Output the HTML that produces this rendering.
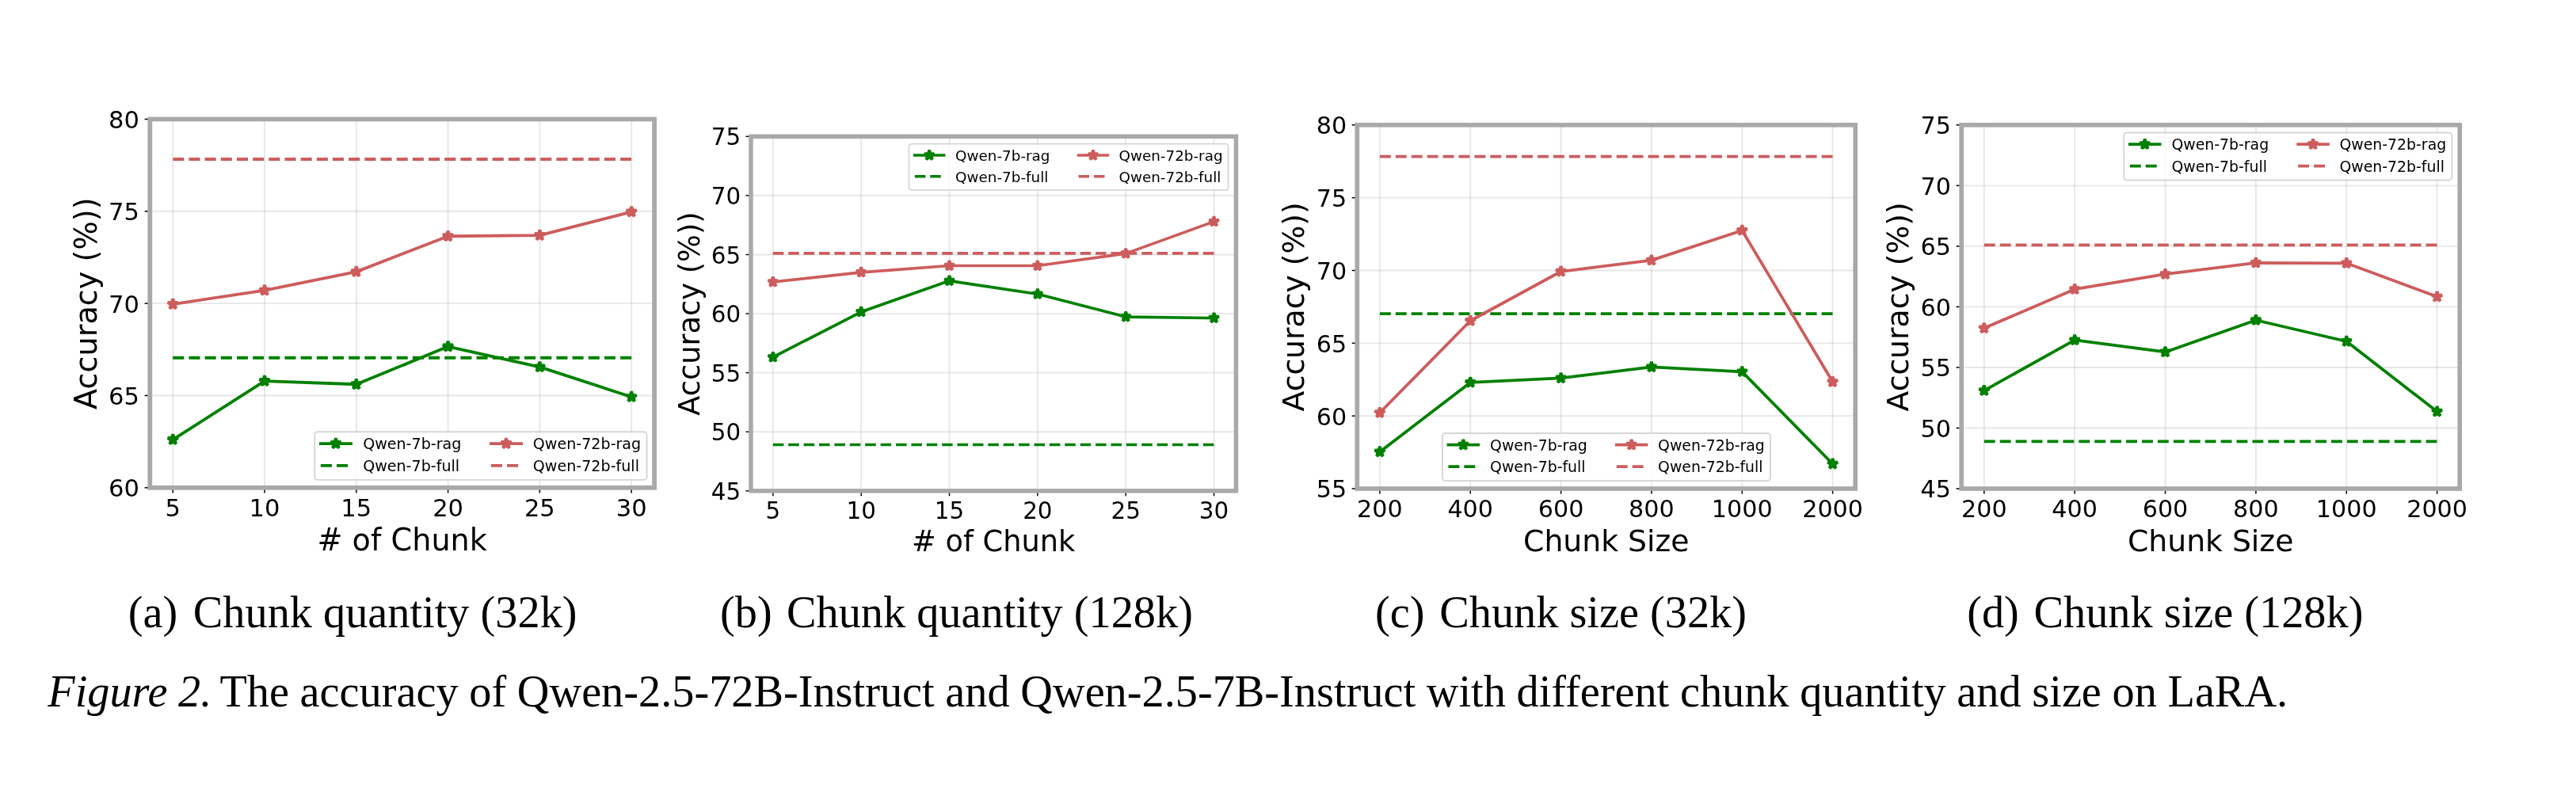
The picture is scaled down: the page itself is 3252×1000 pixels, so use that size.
<!DOCTYPE html>
    <html><head><meta charset="utf-8"><title>Figure 2</title>
    <style>
    html,body{margin:0;padding:0;background:#fff;}
    body{width:3252px;height:1000px;overflow:hidden;}
    svg{display:block;will-change:transform;}
    svg text{font-family:"DejaVu Sans","Liberation Sans",sans-serif;fill:#000;}
    svg text.cap{font-family:"Liberation Serif","Times New Roman",serif;}
    </style></head>
    <body>
    <svg width="3252" height="1000" viewBox="0 0 3252 1000">
    <rect width="3252" height="1000" fill="#fff"/>
    <line x1="189.30" y1="615.80" x2="826.10" y2="615.80" stroke="#b0b0b0" stroke-opacity="0.3" stroke-width="1.91"/>
<line x1="189.30" y1="499.47" x2="826.10" y2="499.47" stroke="#b0b0b0" stroke-opacity="0.3" stroke-width="1.91"/>
<line x1="189.30" y1="383.15" x2="826.10" y2="383.15" stroke="#b0b0b0" stroke-opacity="0.3" stroke-width="1.91"/>
<line x1="189.30" y1="266.82" x2="826.10" y2="266.82" stroke="#b0b0b0" stroke-opacity="0.3" stroke-width="1.91"/>
<line x1="189.30" y1="150.50" x2="826.10" y2="150.50" stroke="#b0b0b0" stroke-opacity="0.3" stroke-width="1.91"/>
<line x1="218.25" y1="150.50" x2="218.25" y2="615.80" stroke="#b0b0b0" stroke-opacity="0.3" stroke-width="1.91"/>
<line x1="334.03" y1="150.50" x2="334.03" y2="615.80" stroke="#b0b0b0" stroke-opacity="0.3" stroke-width="1.91"/>
<line x1="449.81" y1="150.50" x2="449.81" y2="615.80" stroke="#b0b0b0" stroke-opacity="0.3" stroke-width="1.91"/>
<line x1="565.59" y1="150.50" x2="565.59" y2="615.80" stroke="#b0b0b0" stroke-opacity="0.3" stroke-width="1.91"/>
<line x1="681.37" y1="150.50" x2="681.37" y2="615.80" stroke="#b0b0b0" stroke-opacity="0.3" stroke-width="1.91"/>
<line x1="797.15" y1="150.50" x2="797.15" y2="615.80" stroke="#b0b0b0" stroke-opacity="0.3" stroke-width="1.91"/>
<line x1="218.25" y1="451.78" x2="797.15" y2="451.78" stroke="#008000" stroke-width="3.82" stroke-dasharray="14.083,6.090"/>
<line x1="218.25" y1="200.99" x2="797.15" y2="200.99" stroke="#cd5c5c" stroke-width="3.82" stroke-dasharray="14.083,6.090"/>
<polyline points="218.25,555.08 334.03,481.10 449.81,485.28 565.59,437.59 681.37,463.41 797.15,501.10" fill="none" stroke="#008000" stroke-width="3.82" stroke-linejoin="round" stroke-linecap="square"/>
<path d="M218.25,548.39 L216.74,553.01 L211.89,553.01 L215.82,555.87 L214.32,560.49 L218.25,557.63 L222.17,560.49 L220.67,555.87 L224.60,553.01 L219.75,553.01 Z" fill="#008000" stroke="#008000" stroke-width="3.82" stroke-linejoin="bevel"/>
<path d="M334.03,474.41 L332.53,479.03 L327.67,479.03 L331.60,481.88 L330.10,486.50 L334.03,483.65 L337.96,486.50 L336.46,481.88 L340.39,479.03 L335.53,479.03 Z" fill="#008000" stroke="#008000" stroke-width="3.82" stroke-linejoin="bevel"/>
<path d="M449.81,478.60 L448.31,483.22 L443.45,483.22 L447.38,486.07 L445.88,490.69 L449.81,487.84 L453.74,490.69 L452.24,486.07 L456.17,483.22 L451.31,483.22 Z" fill="#008000" stroke="#008000" stroke-width="3.82" stroke-linejoin="bevel"/>
<path d="M565.59,430.91 L564.09,435.52 L559.23,435.52 L563.16,438.38 L561.66,443.00 L565.59,440.14 L569.52,443.00 L568.02,438.38 L571.95,435.52 L567.09,435.52 Z" fill="#008000" stroke="#008000" stroke-width="3.82" stroke-linejoin="bevel"/>
<path d="M681.37,456.73 L679.87,461.35 L675.01,461.35 L678.94,464.20 L677.44,468.82 L681.37,465.97 L685.30,468.82 L683.80,464.20 L687.73,461.35 L682.87,461.35 Z" fill="#008000" stroke="#008000" stroke-width="3.82" stroke-linejoin="bevel"/>
<path d="M797.15,494.42 L795.65,499.04 L790.80,499.04 L794.73,501.89 L793.23,506.51 L797.15,503.66 L801.08,506.51 L799.58,501.89 L803.51,499.04 L798.66,499.04 Z" fill="#008000" stroke="#008000" stroke-width="3.82" stroke-linejoin="bevel"/>
<polyline points="218.25,384.08 334.03,366.63 449.81,343.13 565.59,298.23 681.37,297.07 797.15,267.52" fill="none" stroke="#cd5c5c" stroke-width="3.82" stroke-linejoin="round" stroke-linecap="square"/>
<path d="M218.25,377.40 L216.74,382.01 L211.89,382.01 L215.82,384.87 L214.32,389.49 L218.25,386.63 L222.17,389.49 L220.67,384.87 L224.60,382.01 L219.75,382.01 Z" fill="#cd5c5c" stroke="#cd5c5c" stroke-width="3.82" stroke-linejoin="bevel"/>
<path d="M334.03,359.95 L332.53,364.57 L327.67,364.57 L331.60,367.42 L330.10,372.04 L334.03,369.19 L337.96,372.04 L336.46,367.42 L340.39,364.57 L335.53,364.57 Z" fill="#cd5c5c" stroke="#cd5c5c" stroke-width="3.82" stroke-linejoin="bevel"/>
<path d="M449.81,336.45 L448.31,341.07 L443.45,341.07 L447.38,343.92 L445.88,348.54 L449.81,345.69 L453.74,348.54 L452.24,343.92 L456.17,341.07 L451.31,341.07 Z" fill="#cd5c5c" stroke="#cd5c5c" stroke-width="3.82" stroke-linejoin="bevel"/>
<path d="M565.59,291.55 L564.09,296.17 L559.23,296.17 L563.16,299.02 L561.66,303.64 L565.59,300.79 L569.52,303.64 L568.02,299.02 L571.95,296.17 L567.09,296.17 Z" fill="#cd5c5c" stroke="#cd5c5c" stroke-width="3.82" stroke-linejoin="bevel"/>
<path d="M681.37,290.38 L679.87,295.00 L675.01,295.00 L678.94,297.86 L677.44,302.48 L681.37,299.62 L685.30,302.48 L683.80,297.86 L687.73,295.00 L682.87,295.00 Z" fill="#cd5c5c" stroke="#cd5c5c" stroke-width="3.82" stroke-linejoin="bevel"/>
<path d="M797.15,260.84 L795.65,265.46 L790.80,265.46 L794.73,268.31 L793.23,272.93 L797.15,270.08 L801.08,272.93 L799.58,268.31 L803.51,265.46 L798.66,265.46 Z" fill="#cd5c5c" stroke="#cd5c5c" stroke-width="3.82" stroke-linejoin="bevel"/>
<rect x="397.20" y="545.20" width="419.30" height="60.70" rx="3.82" fill="#ffffff" fill-opacity="0.8" stroke="#cccccc" stroke-opacity="0.8" stroke-width="1.91"/>
<line x1="404.84" y1="560.10" x2="443.04" y2="560.10" stroke="#008000" stroke-width="3.82" stroke-linecap="square"/>
<path d="M423.94,553.42 L422.44,558.03 L417.58,558.03 L421.51,560.89 L420.01,565.51 L423.94,562.65 L427.87,565.51 L426.37,560.89 L430.30,558.03 L425.44,558.03 Z" fill="#008000" stroke="#008000" stroke-width="3.82" stroke-linejoin="bevel"/>
<line x1="404.84" y1="587.90" x2="443.04" y2="587.90" stroke="#008000" stroke-width="3.82" stroke-dasharray="14.083,6.090"/>
<text x="458.13" y="567.36" font-size="19.10">Qwen-7b-rag</text>
<text x="458.13" y="595.26" font-size="19.10">Qwen-7b-full</text>
<line x1="619.90" y1="560.10" x2="658.10" y2="560.10" stroke="#cd5c5c" stroke-width="3.82" stroke-linecap="square"/>
<path d="M639.00,553.42 L637.50,558.03 L632.64,558.03 L636.57,560.89 L635.07,565.51 L639.00,562.65 L642.93,565.51 L641.43,560.89 L645.36,558.03 L640.50,558.03 Z" fill="#cd5c5c" stroke="#cd5c5c" stroke-width="3.82" stroke-linejoin="bevel"/>
<line x1="619.90" y1="587.90" x2="658.10" y2="587.90" stroke="#cd5c5c" stroke-width="3.82" stroke-dasharray="14.083,6.090"/>
<text x="672.83" y="567.36" font-size="19.10">Qwen-72b-rag</text>
<text x="672.83" y="595.26" font-size="19.10">Qwen-72b-full</text>
<line x1="182.62" y1="615.80" x2="189.30" y2="615.80" stroke="#000" stroke-width="1.53"/>
<text x="175.93" y="627.41" font-size="30.56" text-anchor="end">60</text>
<line x1="182.62" y1="499.47" x2="189.30" y2="499.47" stroke="#000" stroke-width="1.53"/>
<text x="175.93" y="511.09" font-size="30.56" text-anchor="end">65</text>
<line x1="182.62" y1="383.15" x2="189.30" y2="383.15" stroke="#000" stroke-width="1.53"/>
<text x="175.93" y="394.76" font-size="30.56" text-anchor="end">70</text>
<line x1="182.62" y1="266.82" x2="189.30" y2="266.82" stroke="#000" stroke-width="1.53"/>
<text x="175.93" y="278.44" font-size="30.56" text-anchor="end">75</text>
<line x1="182.62" y1="150.50" x2="189.30" y2="150.50" stroke="#000" stroke-width="1.53"/>
<text x="175.93" y="162.11" font-size="30.56" text-anchor="end">80</text>
<line x1="218.25" y1="615.80" x2="218.25" y2="622.48" stroke="#000" stroke-width="1.53"/>
<text x="218.25" y="652.40" font-size="30.56" text-anchor="middle">5</text>
<line x1="334.03" y1="615.80" x2="334.03" y2="622.48" stroke="#000" stroke-width="1.53"/>
<text x="334.03" y="652.40" font-size="30.56" text-anchor="middle">10</text>
<line x1="449.81" y1="615.80" x2="449.81" y2="622.48" stroke="#000" stroke-width="1.53"/>
<text x="449.81" y="652.40" font-size="30.56" text-anchor="middle">15</text>
<line x1="565.59" y1="615.80" x2="565.59" y2="622.48" stroke="#000" stroke-width="1.53"/>
<text x="565.59" y="652.40" font-size="30.56" text-anchor="middle">20</text>
<line x1="681.37" y1="615.80" x2="681.37" y2="622.48" stroke="#000" stroke-width="1.53"/>
<text x="681.37" y="652.40" font-size="30.56" text-anchor="middle">25</text>
<line x1="797.15" y1="615.80" x2="797.15" y2="622.48" stroke="#000" stroke-width="1.53"/>
<text x="797.15" y="652.40" font-size="30.56" text-anchor="middle">30</text>
<rect x="189.30" y="150.50" width="636.80" height="465.30" fill="none" stroke="#a9a9a9" stroke-width="5.73" stroke-linejoin="miter"/>
<text x="507.70" y="695.43" font-size="38.20" text-anchor="middle"># of Chunk</text>
<text transform="translate(121.50,383.15) rotate(-90)" x="0" y="0" font-size="38.20" text-anchor="middle">Accuracy (%))</text>
<text class="cap" x="161.67" y="791.7" font-size="56.3">(a)</text>
<text class="cap" x="243.81" y="791.7" font-size="56.3">Chunk quantity (32k)</text>
<line x1="948.00" y1="619.80" x2="1560.40" y2="619.80" stroke="#b0b0b0" stroke-opacity="0.3" stroke-width="1.84"/>
<line x1="948.00" y1="545.22" x2="1560.40" y2="545.22" stroke="#b0b0b0" stroke-opacity="0.3" stroke-width="1.84"/>
<line x1="948.00" y1="470.63" x2="1560.40" y2="470.63" stroke="#b0b0b0" stroke-opacity="0.3" stroke-width="1.84"/>
<line x1="948.00" y1="396.05" x2="1560.40" y2="396.05" stroke="#b0b0b0" stroke-opacity="0.3" stroke-width="1.84"/>
<line x1="948.00" y1="321.47" x2="1560.40" y2="321.47" stroke="#b0b0b0" stroke-opacity="0.3" stroke-width="1.84"/>
<line x1="948.00" y1="246.88" x2="1560.40" y2="246.88" stroke="#b0b0b0" stroke-opacity="0.3" stroke-width="1.84"/>
<line x1="948.00" y1="172.30" x2="1560.40" y2="172.30" stroke="#b0b0b0" stroke-opacity="0.3" stroke-width="1.84"/>
<line x1="975.84" y1="172.30" x2="975.84" y2="619.80" stroke="#b0b0b0" stroke-opacity="0.3" stroke-width="1.84"/>
<line x1="1087.18" y1="172.30" x2="1087.18" y2="619.80" stroke="#b0b0b0" stroke-opacity="0.3" stroke-width="1.84"/>
<line x1="1198.53" y1="172.30" x2="1198.53" y2="619.80" stroke="#b0b0b0" stroke-opacity="0.3" stroke-width="1.84"/>
<line x1="1309.87" y1="172.30" x2="1309.87" y2="619.80" stroke="#b0b0b0" stroke-opacity="0.3" stroke-width="1.84"/>
<line x1="1421.22" y1="172.30" x2="1421.22" y2="619.80" stroke="#b0b0b0" stroke-opacity="0.3" stroke-width="1.84"/>
<line x1="1532.56" y1="172.30" x2="1532.56" y2="619.80" stroke="#b0b0b0" stroke-opacity="0.3" stroke-width="1.84"/>
<line x1="975.84" y1="561.48" x2="1532.56" y2="561.48" stroke="#008000" stroke-width="3.67" stroke-dasharray="13.537,5.854"/>
<line x1="975.84" y1="319.83" x2="1532.56" y2="319.83" stroke="#cd5c5c" stroke-width="3.67" stroke-dasharray="13.537,5.854"/>
<polyline points="975.84,450.94 1087.18,393.81 1198.53,354.58 1309.87,371.29 1421.22,400.08 1532.56,401.57" fill="none" stroke="#008000" stroke-width="3.67" stroke-linejoin="round" stroke-linecap="square"/>
<path d="M975.84,444.52 L974.39,448.96 L969.72,448.96 L973.50,451.70 L972.06,456.14 L975.84,453.40 L979.61,456.14 L978.17,451.70 L981.95,448.96 L977.28,448.96 Z" fill="#008000" stroke="#008000" stroke-width="3.67" stroke-linejoin="bevel"/>
<path d="M1087.18,387.39 L1085.74,391.83 L1081.07,391.83 L1084.85,394.57 L1083.40,399.01 L1087.18,396.27 L1090.96,399.01 L1089.52,394.57 L1093.29,391.83 L1088.62,391.83 Z" fill="#008000" stroke="#008000" stroke-width="3.67" stroke-linejoin="bevel"/>
<path d="M1198.53,348.16 L1197.08,352.60 L1192.42,352.60 L1196.19,355.34 L1194.75,359.78 L1198.53,357.04 L1202.30,359.78 L1200.86,355.34 L1204.64,352.60 L1199.97,352.60 Z" fill="#008000" stroke="#008000" stroke-width="3.67" stroke-linejoin="bevel"/>
<path d="M1309.87,364.86 L1308.43,369.30 L1303.76,369.30 L1307.54,372.05 L1306.10,376.49 L1309.87,373.74 L1313.65,376.49 L1312.21,372.05 L1315.98,369.30 L1311.32,369.30 Z" fill="#008000" stroke="#008000" stroke-width="3.67" stroke-linejoin="bevel"/>
<path d="M1421.22,393.65 L1419.78,398.09 L1415.11,398.09 L1418.88,400.84 L1417.44,405.28 L1421.22,402.53 L1425.00,405.28 L1423.55,400.84 L1427.33,398.09 L1422.66,398.09 Z" fill="#008000" stroke="#008000" stroke-width="3.67" stroke-linejoin="bevel"/>
<path d="M1532.56,395.14 L1531.12,399.58 L1526.45,399.58 L1530.23,402.33 L1528.79,406.77 L1532.56,404.02 L1536.34,406.77 L1534.90,402.33 L1538.68,399.58 L1534.01,399.58 Z" fill="#008000" stroke="#008000" stroke-width="3.67" stroke-linejoin="bevel"/>
<polyline points="975.84,356.07 1087.18,343.84 1198.53,335.49 1309.87,335.49 1421.22,320.12 1532.56,279.70" fill="none" stroke="#cd5c5c" stroke-width="3.67" stroke-linejoin="round" stroke-linecap="square"/>
<path d="M975.84,349.65 L974.39,354.09 L969.72,354.09 L973.50,356.83 L972.06,361.27 L975.84,358.53 L979.61,361.27 L978.17,356.83 L981.95,354.09 L977.28,354.09 Z" fill="#cd5c5c" stroke="#cd5c5c" stroke-width="3.67" stroke-linejoin="bevel"/>
<path d="M1087.18,337.42 L1085.74,341.86 L1081.07,341.86 L1084.85,344.60 L1083.40,349.04 L1087.18,346.30 L1090.96,349.04 L1089.52,344.60 L1093.29,341.86 L1088.62,341.86 Z" fill="#cd5c5c" stroke="#cd5c5c" stroke-width="3.67" stroke-linejoin="bevel"/>
<path d="M1198.53,329.06 L1197.08,333.50 L1192.42,333.50 L1196.19,336.25 L1194.75,340.69 L1198.53,337.94 L1202.30,340.69 L1200.86,336.25 L1204.64,333.50 L1199.97,333.50 Z" fill="#cd5c5c" stroke="#cd5c5c" stroke-width="3.67" stroke-linejoin="bevel"/>
<path d="M1309.87,329.06 L1308.43,333.50 L1303.76,333.50 L1307.54,336.25 L1306.10,340.69 L1309.87,337.94 L1313.65,340.69 L1312.21,336.25 L1315.98,333.50 L1311.32,333.50 Z" fill="#cd5c5c" stroke="#cd5c5c" stroke-width="3.67" stroke-linejoin="bevel"/>
<path d="M1421.22,313.70 L1419.78,318.14 L1415.11,318.14 L1418.88,320.88 L1417.44,325.32 L1421.22,322.58 L1425.00,325.32 L1423.55,320.88 L1427.33,318.14 L1422.66,318.14 Z" fill="#cd5c5c" stroke="#cd5c5c" stroke-width="3.67" stroke-linejoin="bevel"/>
<path d="M1532.56,273.27 L1531.12,277.71 L1526.45,277.71 L1530.23,280.46 L1528.79,284.90 L1532.56,282.15 L1536.34,284.90 L1534.90,280.46 L1538.68,277.71 L1534.01,277.71 Z" fill="#cd5c5c" stroke="#cd5c5c" stroke-width="3.67" stroke-linejoin="bevel"/>
<rect x="1147.50" y="181.70" width="403.05" height="58.35" rx="3.67" fill="#ffffff" fill-opacity="0.8" stroke="#cccccc" stroke-opacity="0.8" stroke-width="1.84"/>
<line x1="1154.84" y1="196.02" x2="1191.56" y2="196.02" stroke="#008000" stroke-width="3.67" stroke-linecap="square"/>
<path d="M1173.20,189.60 L1171.76,194.04 L1167.09,194.04 L1170.87,196.78 L1169.43,201.22 L1173.20,198.48 L1176.98,201.22 L1175.54,196.78 L1179.32,194.04 L1174.65,194.04 Z" fill="#008000" stroke="#008000" stroke-width="3.67" stroke-linejoin="bevel"/>
<line x1="1154.84" y1="222.75" x2="1191.56" y2="222.75" stroke="#008000" stroke-width="3.67" stroke-dasharray="13.537,5.854"/>
<text x="1206.07" y="203.00" font-size="18.36">Qwen-7b-rag</text>
<text x="1206.07" y="229.82" font-size="18.36">Qwen-7b-full</text>
<line x1="1361.57" y1="196.02" x2="1398.29" y2="196.02" stroke="#cd5c5c" stroke-width="3.67" stroke-linecap="square"/>
<path d="M1379.93,189.60 L1378.49,194.04 L1373.82,194.04 L1377.60,196.78 L1376.15,201.22 L1379.93,198.48 L1383.71,201.22 L1382.27,196.78 L1386.04,194.04 L1381.37,194.04 Z" fill="#cd5c5c" stroke="#cd5c5c" stroke-width="3.67" stroke-linejoin="bevel"/>
<line x1="1361.57" y1="222.75" x2="1398.29" y2="222.75" stroke="#cd5c5c" stroke-width="3.67" stroke-dasharray="13.537,5.854"/>
<text x="1412.45" y="203.00" font-size="18.36">Qwen-72b-rag</text>
<text x="1412.45" y="229.82" font-size="18.36">Qwen-72b-full</text>
<line x1="941.57" y1="619.80" x2="948.00" y2="619.80" stroke="#000" stroke-width="1.47"/>
<text x="935.15" y="630.96" font-size="29.38" text-anchor="end">45</text>
<line x1="941.57" y1="545.22" x2="948.00" y2="545.22" stroke="#000" stroke-width="1.47"/>
<text x="935.15" y="556.38" font-size="29.38" text-anchor="end">50</text>
<line x1="941.57" y1="470.63" x2="948.00" y2="470.63" stroke="#000" stroke-width="1.47"/>
<text x="935.15" y="481.80" font-size="29.38" text-anchor="end">55</text>
<line x1="941.57" y1="396.05" x2="948.00" y2="396.05" stroke="#000" stroke-width="1.47"/>
<text x="935.15" y="407.21" font-size="29.38" text-anchor="end">60</text>
<line x1="941.57" y1="321.47" x2="948.00" y2="321.47" stroke="#000" stroke-width="1.47"/>
<text x="935.15" y="332.63" font-size="29.38" text-anchor="end">65</text>
<line x1="941.57" y1="246.88" x2="948.00" y2="246.88" stroke="#000" stroke-width="1.47"/>
<text x="935.15" y="258.05" font-size="29.38" text-anchor="end">70</text>
<line x1="941.57" y1="172.30" x2="948.00" y2="172.30" stroke="#000" stroke-width="1.47"/>
<text x="935.15" y="183.46" font-size="29.38" text-anchor="end">75</text>
<line x1="975.84" y1="619.80" x2="975.84" y2="626.23" stroke="#000" stroke-width="1.47"/>
<text x="975.84" y="654.98" font-size="29.38" text-anchor="middle">5</text>
<line x1="1087.18" y1="619.80" x2="1087.18" y2="626.23" stroke="#000" stroke-width="1.47"/>
<text x="1087.18" y="654.98" font-size="29.38" text-anchor="middle">10</text>
<line x1="1198.53" y1="619.80" x2="1198.53" y2="626.23" stroke="#000" stroke-width="1.47"/>
<text x="1198.53" y="654.98" font-size="29.38" text-anchor="middle">15</text>
<line x1="1309.87" y1="619.80" x2="1309.87" y2="626.23" stroke="#000" stroke-width="1.47"/>
<text x="1309.87" y="654.98" font-size="29.38" text-anchor="middle">20</text>
<line x1="1421.22" y1="619.80" x2="1421.22" y2="626.23" stroke="#000" stroke-width="1.47"/>
<text x="1421.22" y="654.98" font-size="29.38" text-anchor="middle">25</text>
<line x1="1532.56" y1="619.80" x2="1532.56" y2="626.23" stroke="#000" stroke-width="1.47"/>
<text x="1532.56" y="654.98" font-size="29.38" text-anchor="middle">30</text>
<rect x="948.00" y="172.30" width="612.40" height="447.50" fill="none" stroke="#a9a9a9" stroke-width="5.51" stroke-linejoin="miter"/>
<text x="1254.20" y="696.34" font-size="36.72" text-anchor="middle"># of Chunk</text>
<text transform="translate(882.82,396.05) rotate(-90)" x="0" y="0" font-size="36.72" text-anchor="middle">Accuracy (%))</text>
<text class="cap" x="909.07" y="791.7" font-size="56.3">(b)</text>
<text class="cap" x="993.01" y="791.7" font-size="56.3">Chunk quantity (128k)</text>
<line x1="1713.30" y1="617.00" x2="2342.20" y2="617.00" stroke="#b0b0b0" stroke-opacity="0.3" stroke-width="1.89"/>
<line x1="1713.30" y1="525.16" x2="2342.20" y2="525.16" stroke="#b0b0b0" stroke-opacity="0.3" stroke-width="1.89"/>
<line x1="1713.30" y1="433.32" x2="2342.20" y2="433.32" stroke="#b0b0b0" stroke-opacity="0.3" stroke-width="1.89"/>
<line x1="1713.30" y1="341.48" x2="2342.20" y2="341.48" stroke="#b0b0b0" stroke-opacity="0.3" stroke-width="1.89"/>
<line x1="1713.30" y1="249.64" x2="2342.20" y2="249.64" stroke="#b0b0b0" stroke-opacity="0.3" stroke-width="1.89"/>
<line x1="1713.30" y1="157.80" x2="2342.20" y2="157.80" stroke="#b0b0b0" stroke-opacity="0.3" stroke-width="1.89"/>
<line x1="1741.89" y1="157.80" x2="1741.89" y2="617.00" stroke="#b0b0b0" stroke-opacity="0.3" stroke-width="1.89"/>
<line x1="1856.23" y1="157.80" x2="1856.23" y2="617.00" stroke="#b0b0b0" stroke-opacity="0.3" stroke-width="1.89"/>
<line x1="1970.58" y1="157.80" x2="1970.58" y2="617.00" stroke="#b0b0b0" stroke-opacity="0.3" stroke-width="1.89"/>
<line x1="2084.92" y1="157.80" x2="2084.92" y2="617.00" stroke="#b0b0b0" stroke-opacity="0.3" stroke-width="1.89"/>
<line x1="2199.27" y1="157.80" x2="2199.27" y2="617.00" stroke="#b0b0b0" stroke-opacity="0.3" stroke-width="1.89"/>
<line x1="2313.61" y1="157.80" x2="2313.61" y2="617.00" stroke="#b0b0b0" stroke-opacity="0.3" stroke-width="1.89"/>
<line x1="1741.89" y1="396.22" x2="2313.61" y2="396.22" stroke="#008000" stroke-width="3.77" stroke-dasharray="13.906,6.013"/>
<line x1="1741.89" y1="197.66" x2="2313.61" y2="197.66" stroke="#cd5c5c" stroke-width="3.77" stroke-dasharray="13.906,6.013"/>
<polyline points="1741.89,570.53 1856.23,482.91 1970.58,477.40 2084.92,463.44 2199.27,469.32 2313.61,585.77" fill="none" stroke="#008000" stroke-width="3.77" stroke-linejoin="round" stroke-linecap="square"/>
<path d="M1741.89,563.93 L1740.40,568.49 L1735.61,568.49 L1739.49,571.31 L1738.01,575.87 L1741.89,573.05 L1745.77,575.87 L1744.28,571.31 L1748.16,568.49 L1743.37,568.49 Z" fill="#008000" stroke="#008000" stroke-width="3.77" stroke-linejoin="bevel"/>
<path d="M1856.23,476.31 L1854.75,480.87 L1849.95,480.87 L1853.83,483.69 L1852.35,488.25 L1856.23,485.43 L1860.11,488.25 L1858.63,483.69 L1862.51,480.87 L1857.71,480.87 Z" fill="#008000" stroke="#008000" stroke-width="3.77" stroke-linejoin="bevel"/>
<path d="M1970.58,470.80 L1969.10,475.36 L1964.30,475.36 L1968.18,478.18 L1966.70,482.74 L1970.58,479.92 L1974.46,482.74 L1972.98,478.18 L1976.86,475.36 L1972.06,475.36 Z" fill="#008000" stroke="#008000" stroke-width="3.77" stroke-linejoin="bevel"/>
<path d="M2084.92,456.84 L2083.44,461.40 L2078.64,461.40 L2082.52,464.22 L2081.04,468.78 L2084.92,465.96 L2088.80,468.78 L2087.32,464.22 L2091.20,461.40 L2086.40,461.40 Z" fill="#008000" stroke="#008000" stroke-width="3.77" stroke-linejoin="bevel"/>
<path d="M2199.27,462.72 L2197.79,467.28 L2192.99,467.28 L2196.87,470.10 L2195.39,474.66 L2199.27,471.84 L2203.15,474.66 L2201.67,470.10 L2205.55,467.28 L2200.75,467.28 Z" fill="#008000" stroke="#008000" stroke-width="3.77" stroke-linejoin="bevel"/>
<path d="M2313.61,579.17 L2312.13,583.73 L2307.34,583.73 L2311.22,586.55 L2309.73,591.11 L2313.61,588.30 L2317.49,591.11 L2316.01,586.55 L2319.89,583.73 L2315.10,583.73 Z" fill="#008000" stroke="#008000" stroke-width="3.77" stroke-linejoin="bevel"/>
<polyline points="1741.89,521.12 1856.23,405.03 1970.58,342.77 2084.92,328.62 2199.27,290.97 2313.61,482.18" fill="none" stroke="#cd5c5c" stroke-width="3.77" stroke-linejoin="round" stroke-linecap="square"/>
<path d="M1741.89,514.52 L1740.40,519.08 L1735.61,519.08 L1739.49,521.90 L1738.01,526.46 L1741.89,523.64 L1745.77,526.46 L1744.28,521.90 L1748.16,519.08 L1743.37,519.08 Z" fill="#cd5c5c" stroke="#cd5c5c" stroke-width="3.77" stroke-linejoin="bevel"/>
<path d="M1856.23,398.43 L1854.75,402.99 L1849.95,402.99 L1853.83,405.81 L1852.35,410.37 L1856.23,407.55 L1860.11,410.37 L1858.63,405.81 L1862.51,402.99 L1857.71,402.99 Z" fill="#cd5c5c" stroke="#cd5c5c" stroke-width="3.77" stroke-linejoin="bevel"/>
<path d="M1970.58,336.16 L1969.10,340.73 L1964.30,340.73 L1968.18,343.54 L1966.70,348.11 L1970.58,345.29 L1974.46,348.11 L1972.98,343.54 L1976.86,340.73 L1972.06,340.73 Z" fill="#cd5c5c" stroke="#cd5c5c" stroke-width="3.77" stroke-linejoin="bevel"/>
<path d="M2084.92,322.02 L2083.44,326.58 L2078.64,326.58 L2082.52,329.40 L2081.04,333.96 L2084.92,331.14 L2088.80,333.96 L2087.32,329.40 L2091.20,326.58 L2086.40,326.58 Z" fill="#cd5c5c" stroke="#cd5c5c" stroke-width="3.77" stroke-linejoin="bevel"/>
<path d="M2199.27,284.37 L2197.79,288.93 L2192.99,288.93 L2196.87,291.75 L2195.39,296.31 L2199.27,293.49 L2203.15,296.31 L2201.67,291.75 L2205.55,288.93 L2200.75,288.93 Z" fill="#cd5c5c" stroke="#cd5c5c" stroke-width="3.77" stroke-linejoin="bevel"/>
<path d="M2313.61,475.58 L2312.13,480.14 L2307.34,480.14 L2311.22,482.96 L2309.73,487.52 L2313.61,484.70 L2317.49,487.52 L2316.01,482.96 L2319.89,480.14 L2315.10,480.14 Z" fill="#cd5c5c" stroke="#cd5c5c" stroke-width="3.77" stroke-linejoin="bevel"/>
<rect x="1820.90" y="547.00" width="414.03" height="59.94" rx="3.77" fill="#ffffff" fill-opacity="0.8" stroke="#cccccc" stroke-opacity="0.8" stroke-width="1.89"/>
<line x1="1828.44" y1="561.71" x2="1866.16" y2="561.71" stroke="#008000" stroke-width="3.77" stroke-linecap="square"/>
<path d="M1847.30,555.11 L1845.82,559.67 L1841.03,559.67 L1844.91,562.49 L1843.42,567.05 L1847.30,564.23 L1851.18,567.05 L1849.70,562.49 L1853.58,559.67 L1848.79,559.67 Z" fill="#008000" stroke="#008000" stroke-width="3.77" stroke-linejoin="bevel"/>
<line x1="1828.44" y1="589.16" x2="1866.16" y2="589.16" stroke="#008000" stroke-width="3.77" stroke-dasharray="13.906,6.013"/>
<text x="1881.06" y="568.88" font-size="18.86">Qwen-7b-rag</text>
<text x="1881.06" y="596.43" font-size="18.86">Qwen-7b-full</text>
<line x1="2040.80" y1="561.71" x2="2078.52" y2="561.71" stroke="#cd5c5c" stroke-width="3.77" stroke-linecap="square"/>
<path d="M2059.66,555.11 L2058.18,559.67 L2053.38,559.67 L2057.26,562.49 L2055.78,567.05 L2059.66,564.23 L2063.54,567.05 L2062.06,562.49 L2065.94,559.67 L2061.14,559.67 Z" fill="#cd5c5c" stroke="#cd5c5c" stroke-width="3.77" stroke-linejoin="bevel"/>
<line x1="2040.80" y1="589.16" x2="2078.52" y2="589.16" stroke="#cd5c5c" stroke-width="3.77" stroke-dasharray="13.906,6.013"/>
<text x="2093.07" y="568.88" font-size="18.86">Qwen-72b-rag</text>
<text x="2093.07" y="596.43" font-size="18.86">Qwen-72b-full</text>
<line x1="1706.70" y1="617.00" x2="1713.30" y2="617.00" stroke="#000" stroke-width="1.51"/>
<text x="1700.10" y="628.47" font-size="30.18" text-anchor="end">55</text>
<line x1="1706.70" y1="525.16" x2="1713.30" y2="525.16" stroke="#000" stroke-width="1.51"/>
<text x="1700.10" y="536.63" font-size="30.18" text-anchor="end">60</text>
<line x1="1706.70" y1="433.32" x2="1713.30" y2="433.32" stroke="#000" stroke-width="1.51"/>
<text x="1700.10" y="444.79" font-size="30.18" text-anchor="end">65</text>
<line x1="1706.70" y1="341.48" x2="1713.30" y2="341.48" stroke="#000" stroke-width="1.51"/>
<text x="1700.10" y="352.95" font-size="30.18" text-anchor="end">70</text>
<line x1="1706.70" y1="249.64" x2="1713.30" y2="249.64" stroke="#000" stroke-width="1.51"/>
<text x="1700.10" y="261.11" font-size="30.18" text-anchor="end">75</text>
<line x1="1706.70" y1="157.80" x2="1713.30" y2="157.80" stroke="#000" stroke-width="1.51"/>
<text x="1700.10" y="169.27" font-size="30.18" text-anchor="end">80</text>
<line x1="1741.89" y1="617.00" x2="1741.89" y2="623.60" stroke="#000" stroke-width="1.51"/>
<text x="1741.89" y="653.14" font-size="30.18" text-anchor="middle">200</text>
<line x1="1856.23" y1="617.00" x2="1856.23" y2="623.60" stroke="#000" stroke-width="1.51"/>
<text x="1856.23" y="653.14" font-size="30.18" text-anchor="middle">400</text>
<line x1="1970.58" y1="617.00" x2="1970.58" y2="623.60" stroke="#000" stroke-width="1.51"/>
<text x="1970.58" y="653.14" font-size="30.18" text-anchor="middle">600</text>
<line x1="2084.92" y1="617.00" x2="2084.92" y2="623.60" stroke="#000" stroke-width="1.51"/>
<text x="2084.92" y="653.14" font-size="30.18" text-anchor="middle">800</text>
<line x1="2199.27" y1="617.00" x2="2199.27" y2="623.60" stroke="#000" stroke-width="1.51"/>
<text x="2199.27" y="653.14" font-size="30.18" text-anchor="middle">1000</text>
<line x1="2313.61" y1="617.00" x2="2313.61" y2="623.60" stroke="#000" stroke-width="1.51"/>
<text x="2313.61" y="653.14" font-size="30.18" text-anchor="middle">2000</text>
<rect x="1713.30" y="157.80" width="628.90" height="459.20" fill="none" stroke="#a9a9a9" stroke-width="5.66" stroke-linejoin="miter"/>
<text x="2027.75" y="695.63" font-size="37.72" text-anchor="middle">Chunk Size</text>
<text transform="translate(1646.35,387.40) rotate(-90)" x="0" y="0" font-size="37.72" text-anchor="middle">Accuracy (%))</text>
<text class="cap" x="1736.07" y="791.7" font-size="56.3">(c)</text>
<text class="cap" x="1817.21" y="791.7" font-size="56.3">Chunk size (32k)</text>
<line x1="2476.20" y1="617.00" x2="3105.20" y2="617.00" stroke="#b0b0b0" stroke-opacity="0.3" stroke-width="1.89"/>
<line x1="2476.20" y1="540.47" x2="3105.20" y2="540.47" stroke="#b0b0b0" stroke-opacity="0.3" stroke-width="1.89"/>
<line x1="2476.20" y1="463.93" x2="3105.20" y2="463.93" stroke="#b0b0b0" stroke-opacity="0.3" stroke-width="1.89"/>
<line x1="2476.20" y1="387.40" x2="3105.20" y2="387.40" stroke="#b0b0b0" stroke-opacity="0.3" stroke-width="1.89"/>
<line x1="2476.20" y1="310.87" x2="3105.20" y2="310.87" stroke="#b0b0b0" stroke-opacity="0.3" stroke-width="1.89"/>
<line x1="2476.20" y1="234.33" x2="3105.20" y2="234.33" stroke="#b0b0b0" stroke-opacity="0.3" stroke-width="1.89"/>
<line x1="2476.20" y1="157.80" x2="3105.20" y2="157.80" stroke="#b0b0b0" stroke-opacity="0.3" stroke-width="1.89"/>
<line x1="2504.79" y1="157.80" x2="2504.79" y2="617.00" stroke="#b0b0b0" stroke-opacity="0.3" stroke-width="1.89"/>
<line x1="2619.15" y1="157.80" x2="2619.15" y2="617.00" stroke="#b0b0b0" stroke-opacity="0.3" stroke-width="1.89"/>
<line x1="2733.52" y1="157.80" x2="2733.52" y2="617.00" stroke="#b0b0b0" stroke-opacity="0.3" stroke-width="1.89"/>
<line x1="2847.88" y1="157.80" x2="2847.88" y2="617.00" stroke="#b0b0b0" stroke-opacity="0.3" stroke-width="1.89"/>
<line x1="2962.25" y1="157.80" x2="2962.25" y2="617.00" stroke="#b0b0b0" stroke-opacity="0.3" stroke-width="1.89"/>
<line x1="3076.61" y1="157.80" x2="3076.61" y2="617.00" stroke="#b0b0b0" stroke-opacity="0.3" stroke-width="1.89"/>
<line x1="2504.79" y1="557.30" x2="3076.61" y2="557.30" stroke="#008000" stroke-width="3.77" stroke-dasharray="13.906,6.013"/>
<line x1="2504.79" y1="309.34" x2="3076.61" y2="309.34" stroke="#cd5c5c" stroke-width="3.77" stroke-dasharray="13.906,6.013"/>
<polyline points="2504.79,493.17 2619.15,429.34 2733.52,444.49 2847.88,404.24 2962.25,431.02 3076.61,519.65" fill="none" stroke="#008000" stroke-width="3.77" stroke-linejoin="round" stroke-linecap="square"/>
<path d="M2504.79,486.57 L2503.31,491.13 L2498.51,491.13 L2502.39,493.95 L2500.91,498.51 L2504.79,495.69 L2508.67,498.51 L2507.19,493.95 L2511.07,491.13 L2506.27,491.13 Z" fill="#008000" stroke="#008000" stroke-width="3.77" stroke-linejoin="bevel"/>
<path d="M2619.15,422.74 L2617.67,427.30 L2612.88,427.30 L2616.76,430.12 L2615.27,434.68 L2619.15,431.86 L2623.03,434.68 L2621.55,430.12 L2625.43,427.30 L2620.64,427.30 Z" fill="#008000" stroke="#008000" stroke-width="3.77" stroke-linejoin="bevel"/>
<path d="M2733.52,437.89 L2732.04,442.45 L2727.24,442.45 L2731.12,445.27 L2729.64,449.83 L2733.52,447.02 L2737.40,449.83 L2735.92,445.27 L2739.80,442.45 L2735.00,442.45 Z" fill="#008000" stroke="#008000" stroke-width="3.77" stroke-linejoin="bevel"/>
<path d="M2847.88,397.64 L2846.40,402.20 L2841.60,402.20 L2845.48,405.02 L2844.00,409.58 L2847.88,406.76 L2851.76,409.58 L2850.28,405.02 L2854.16,402.20 L2849.36,402.20 Z" fill="#008000" stroke="#008000" stroke-width="3.77" stroke-linejoin="bevel"/>
<path d="M2962.25,424.42 L2960.76,428.98 L2955.97,428.98 L2959.85,431.80 L2958.37,436.36 L2962.25,433.55 L2966.13,436.36 L2964.64,431.80 L2968.52,428.98 L2963.73,428.98 Z" fill="#008000" stroke="#008000" stroke-width="3.77" stroke-linejoin="bevel"/>
<path d="M3076.61,513.05 L3075.13,517.61 L3070.33,517.61 L3074.21,520.43 L3072.73,524.99 L3076.61,522.17 L3080.49,524.99 L3079.01,520.43 L3082.89,517.61 L3078.09,517.61 Z" fill="#008000" stroke="#008000" stroke-width="3.77" stroke-linejoin="bevel"/>
<polyline points="2504.79,414.34 2619.15,365.21 2733.52,346.23 2847.88,331.84 2962.25,332.30 3076.61,374.70" fill="none" stroke="#cd5c5c" stroke-width="3.77" stroke-linejoin="round" stroke-linecap="square"/>
<path d="M2504.79,407.74 L2503.31,412.30 L2498.51,412.30 L2502.39,415.12 L2500.91,419.68 L2504.79,416.86 L2508.67,419.68 L2507.19,415.12 L2511.07,412.30 L2506.27,412.30 Z" fill="#cd5c5c" stroke="#cd5c5c" stroke-width="3.77" stroke-linejoin="bevel"/>
<path d="M2619.15,358.60 L2617.67,363.17 L2612.88,363.17 L2616.76,365.98 L2615.27,370.55 L2619.15,367.73 L2623.03,370.55 L2621.55,365.98 L2625.43,363.17 L2620.64,363.17 Z" fill="#cd5c5c" stroke="#cd5c5c" stroke-width="3.77" stroke-linejoin="bevel"/>
<path d="M2733.52,339.62 L2732.04,344.19 L2727.24,344.19 L2731.12,347.00 L2729.64,351.57 L2733.52,348.75 L2737.40,351.57 L2735.92,347.00 L2739.80,344.19 L2735.00,344.19 Z" fill="#cd5c5c" stroke="#cd5c5c" stroke-width="3.77" stroke-linejoin="bevel"/>
<path d="M2847.88,325.24 L2846.40,329.80 L2841.60,329.80 L2845.48,332.62 L2844.00,337.18 L2847.88,334.36 L2851.76,337.18 L2850.28,332.62 L2854.16,329.80 L2849.36,329.80 Z" fill="#cd5c5c" stroke="#cd5c5c" stroke-width="3.77" stroke-linejoin="bevel"/>
<path d="M2962.25,325.69 L2960.76,330.26 L2955.97,330.26 L2959.85,333.08 L2958.37,337.64 L2962.25,334.82 L2966.13,337.64 L2964.64,333.08 L2968.52,330.26 L2963.73,330.26 Z" fill="#cd5c5c" stroke="#cd5c5c" stroke-width="3.77" stroke-linejoin="bevel"/>
<path d="M3076.61,368.09 L3075.13,372.66 L3070.33,372.66 L3074.21,375.47 L3072.73,380.04 L3076.61,377.22 L3080.49,380.04 L3079.01,375.47 L3082.89,372.66 L3078.09,372.66 Z" fill="#cd5c5c" stroke="#cd5c5c" stroke-width="3.77" stroke-linejoin="bevel"/>
<rect x="2681.30" y="167.50" width="414.03" height="59.94" rx="3.77" fill="#ffffff" fill-opacity="0.8" stroke="#cccccc" stroke-opacity="0.8" stroke-width="1.89"/>
<line x1="2688.84" y1="182.21" x2="2726.56" y2="182.21" stroke="#008000" stroke-width="3.77" stroke-linecap="square"/>
<path d="M2707.70,175.61 L2706.22,180.17 L2701.43,180.17 L2705.31,182.99 L2703.82,187.55 L2707.70,184.73 L2711.58,187.55 L2710.10,182.99 L2713.98,180.17 L2709.19,180.17 Z" fill="#008000" stroke="#008000" stroke-width="3.77" stroke-linejoin="bevel"/>
<line x1="2688.84" y1="209.66" x2="2726.56" y2="209.66" stroke="#008000" stroke-width="3.77" stroke-dasharray="13.906,6.013"/>
<text x="2741.46" y="189.38" font-size="18.86">Qwen-7b-rag</text>
<text x="2741.46" y="216.93" font-size="18.86">Qwen-7b-full</text>
<line x1="2901.20" y1="182.21" x2="2938.92" y2="182.21" stroke="#cd5c5c" stroke-width="3.77" stroke-linecap="square"/>
<path d="M2920.06,175.61 L2918.58,180.17 L2913.78,180.17 L2917.66,182.99 L2916.18,187.55 L2920.06,184.73 L2923.94,187.55 L2922.46,182.99 L2926.34,180.17 L2921.54,180.17 Z" fill="#cd5c5c" stroke="#cd5c5c" stroke-width="3.77" stroke-linejoin="bevel"/>
<line x1="2901.20" y1="209.66" x2="2938.92" y2="209.66" stroke="#cd5c5c" stroke-width="3.77" stroke-dasharray="13.906,6.013"/>
<text x="2953.47" y="189.38" font-size="18.86">Qwen-72b-rag</text>
<text x="2953.47" y="216.93" font-size="18.86">Qwen-72b-full</text>
<line x1="2469.60" y1="617.00" x2="2476.20" y2="617.00" stroke="#000" stroke-width="1.51"/>
<text x="2463.00" y="628.47" font-size="30.18" text-anchor="end">45</text>
<line x1="2469.60" y1="540.47" x2="2476.20" y2="540.47" stroke="#000" stroke-width="1.51"/>
<text x="2463.00" y="551.93" font-size="30.18" text-anchor="end">50</text>
<line x1="2469.60" y1="463.93" x2="2476.20" y2="463.93" stroke="#000" stroke-width="1.51"/>
<text x="2463.00" y="475.40" font-size="30.18" text-anchor="end">55</text>
<line x1="2469.60" y1="387.40" x2="2476.20" y2="387.40" stroke="#000" stroke-width="1.51"/>
<text x="2463.00" y="398.87" font-size="30.18" text-anchor="end">60</text>
<line x1="2469.60" y1="310.87" x2="2476.20" y2="310.87" stroke="#000" stroke-width="1.51"/>
<text x="2463.00" y="322.33" font-size="30.18" text-anchor="end">65</text>
<line x1="2469.60" y1="234.33" x2="2476.20" y2="234.33" stroke="#000" stroke-width="1.51"/>
<text x="2463.00" y="245.80" font-size="30.18" text-anchor="end">70</text>
<line x1="2469.60" y1="157.80" x2="2476.20" y2="157.80" stroke="#000" stroke-width="1.51"/>
<text x="2463.00" y="169.27" font-size="30.18" text-anchor="end">75</text>
<line x1="2504.79" y1="617.00" x2="2504.79" y2="623.60" stroke="#000" stroke-width="1.51"/>
<text x="2504.79" y="653.14" font-size="30.18" text-anchor="middle">200</text>
<line x1="2619.15" y1="617.00" x2="2619.15" y2="623.60" stroke="#000" stroke-width="1.51"/>
<text x="2619.15" y="653.14" font-size="30.18" text-anchor="middle">400</text>
<line x1="2733.52" y1="617.00" x2="2733.52" y2="623.60" stroke="#000" stroke-width="1.51"/>
<text x="2733.52" y="653.14" font-size="30.18" text-anchor="middle">600</text>
<line x1="2847.88" y1="617.00" x2="2847.88" y2="623.60" stroke="#000" stroke-width="1.51"/>
<text x="2847.88" y="653.14" font-size="30.18" text-anchor="middle">800</text>
<line x1="2962.25" y1="617.00" x2="2962.25" y2="623.60" stroke="#000" stroke-width="1.51"/>
<text x="2962.25" y="653.14" font-size="30.18" text-anchor="middle">1000</text>
<line x1="3076.61" y1="617.00" x2="3076.61" y2="623.60" stroke="#000" stroke-width="1.51"/>
<text x="3076.61" y="653.14" font-size="30.18" text-anchor="middle">2000</text>
<rect x="2476.20" y="157.80" width="629.00" height="459.20" fill="none" stroke="#a9a9a9" stroke-width="5.66" stroke-linejoin="miter"/>
<text x="2790.70" y="695.63" font-size="37.72" text-anchor="middle">Chunk Size</text>
<text transform="translate(2409.25,387.40) rotate(-90)" x="0" y="0" font-size="37.72" text-anchor="middle">Accuracy (%))</text>
<text class="cap" x="2483.17" y="791.7" font-size="56.3">(d)</text>
<text class="cap" x="2567.51" y="791.7" font-size="56.3">Chunk size (128k)</text>
    <text class="cap" x="60.3" y="892.2" font-size="56.3" word-spacing="-0.4"><tspan font-style="italic">Figure 2.</tspan> <tspan dx="-2.6">The accuracy of Qwen-2.5-72B-Instruct and Qwen-2.5-7B-Instruct with different chunk quantity and size on LaRA.</tspan></text>
    </svg>
    </body></html>
